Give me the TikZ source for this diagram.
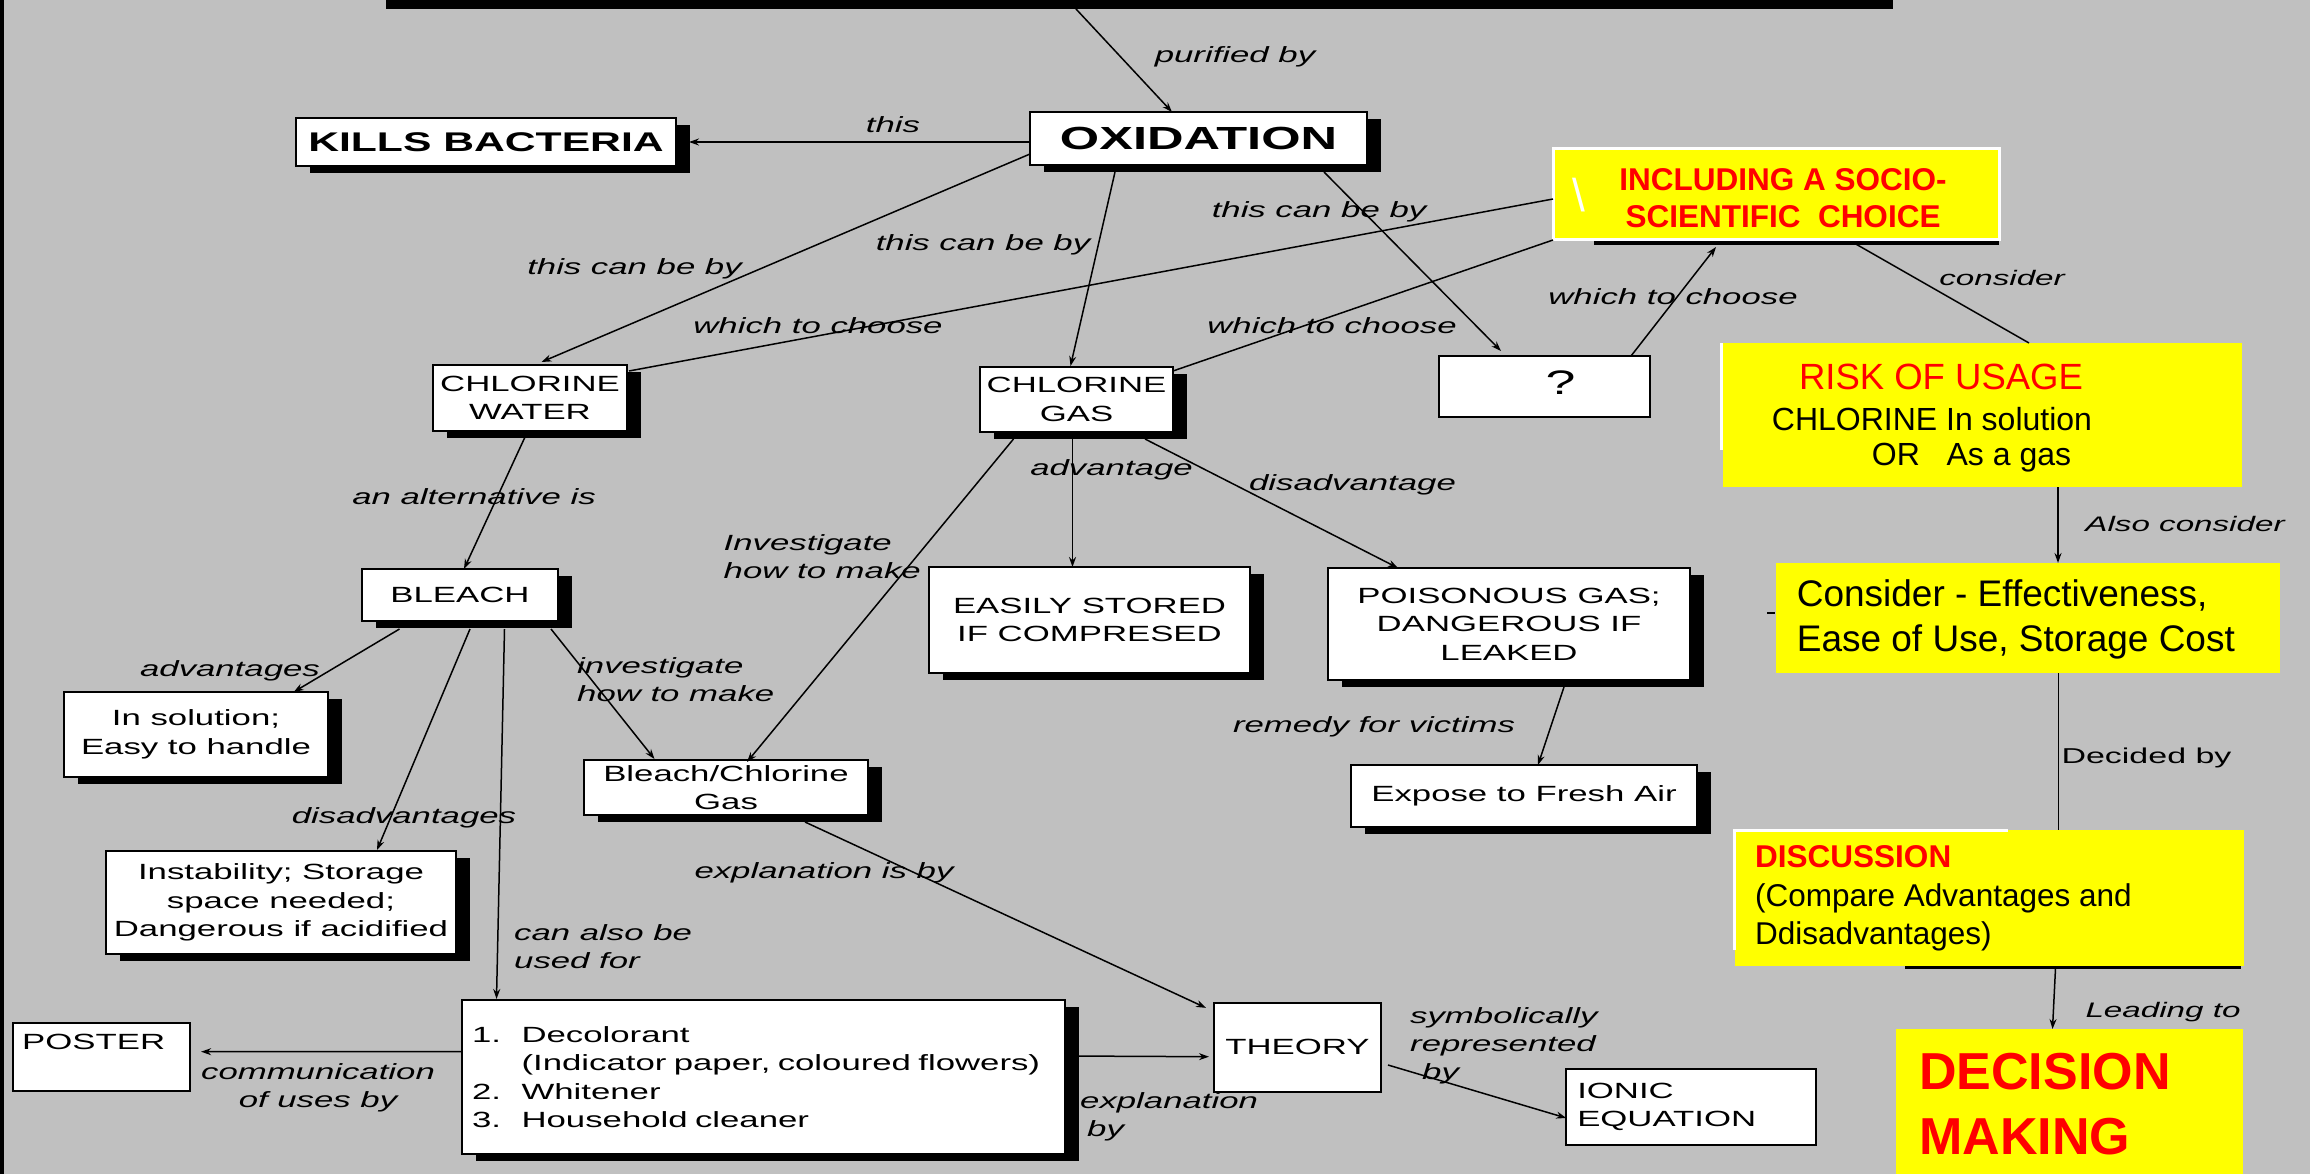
\documentclass[tikz,border=0pt]{standalone}
\usepackage{fontspec}
\setmainfont{Liberation Sans}
\newfontfamily\mapfont[FakeStretch=1.58]{Liberation Sans}
\usetikzlibrary{arrows.meta,shadows}

\definecolor{bggray}{HTML}{C0C0C0}
\definecolor{ylw}{HTML}{FFFF00}
\definecolor{rd}{HTML}{FF0000}

\tikzset{
  mapbox/.style={draw=black, line width=2pt, fill=white, inner sep=0pt, outer sep=0pt,
    align=center, font=\mapfont\fontsize{22}{28.5}\selectfont},
  shadowed/.style={general shadow={fill=black, shadow xshift=14pt, shadow yshift=-7pt}},
  ybox/.style={fill=ylw, inner sep=0pt, outer sep=0pt},
  ytext/.style={inner sep=0pt, align=left},
  lbl/.style={font=\mapfont\itshape\fontsize{22}{28}\selectfont, inner sep=0pt, align=left},
  rlbl/.style={font=\mapfont\itshape\fontsize{21}{28}\selectfont, inner sep=0pt},
  link/.style={line width=1.5pt},
  arr/.style={link, -{Stealth[length=10pt,width=7pt]}},
}

\begin{document}
\begin{tikzpicture}[x=1pt,y=-1pt]
\useasboundingbox (0,0) rectangle (2310,1174);
\fill[bggray] (0,0) rectangle (2310,1174);
\fill[black] (0,0) rectangle (3.5,1174);

% ---------- concept map boxes ----------
\node[fill=black, inner sep=0pt, outer sep=0pt, minimum width=1507pt, minimum height=9pt] (bar) at (1139.5,4.5) {};

\node[mapbox, shadowed, minimum width=380pt, minimum height=48pt,
      font=\mapfont\bfseries\fontsize{27}{30}\selectfont] (kb) at (486,142) {KILLS BACTERIA};
\node[mapbox, shadowed, minimum width=337pt, minimum height=53pt,
      font=\mapfont\bfseries\fontsize{32}{34}\selectfont] (ox) at (1198.5,138.5) {OXIDATION};

\node[mapbox, shadowed, minimum width=194pt, minimum height=66pt] (cw) at (530,398) {CHLORINE\\WATER};
\node[mapbox, shadowed, minimum width=193pt, minimum height=65pt] (cg) at (1076.5,399.5) {CHLORINE\\GAS};
\node[mapbox, minimum width=211pt, minimum height=61pt] (qm) at (1544.5,386.5) {};
\node[inner sep=0pt, font=\mapfont\fontsize{34}{34}\selectfont] (qmtext) at (1560.5,383) {?};

\node[mapbox, shadowed, minimum width=195.5pt, minimum height=52pt] (bleach) at (460,595) {BLEACH};
\node[mapbox, shadowed, minimum width=264pt, minimum height=85pt] (insol) at (196,734.5) {In solution;\\Easy to handle};
\node[mapbox, shadowed, minimum width=350pt, minimum height=103pt] (instab) at (281,902.5)
  {Instability; Storage\\space needed;\\Dangerous if acidified};
\node[mapbox, shadowed, minimum width=283.5pt, minimum height=55pt] (bcg) at (726,787.5) {Bleach/Chlorine\\Gas};
\node[mapbox, shadowed, minimum width=321pt, minimum height=106pt] (easily) at (1089.5,620) {EASILY STORED\\IF COMPRESED};
\node[mapbox, shadowed, minimum width=362.5pt, minimum height=112pt] (pois) at (1509,624)
  {POISONOUS GAS;\\DANGEROUS IF\\LEAKED};
\node[mapbox, shadowed, minimum width=346.5pt, minimum height=62pt] (expose) at (1524,796) {Expose to Fresh Air};

\node[mapbox, shadowed, minimum width=603pt, minimum height=154pt, text width=583pt, inner xsep=10pt, align=left] (uses) at (763.5,1077)
  {\makebox[49.6pt][l]{1.}Decolorant\\
   \hspace*{49.6pt}(Indicator paper, coloured flowers)\\
   \makebox[49.6pt][l]{2.}Whitener\\
   \makebox[49.6pt][l]{3.}Household cleaner};

\node[mapbox, minimum width=177pt, minimum height=68pt] (poster) at (101,1056.85) {};
\node[inner sep=0pt, anchor=west, font=\mapfont\fontsize{22}{28}\selectfont] (postertext) at (22,1042) {POSTER};

\node[mapbox, minimum width=167pt, minimum height=89pt] (theory) at (1297.5,1047.35) {THEORY};
\node[mapbox, minimum width=249.5pt, minimum height=76.3pt, text width=227.5pt, inner xsep=11pt, align=left] (ionic) at (1691,1106.85)
  {IONIC\\EQUATION};

% ---------- yellow decision boxes ----------
\node[ybox, draw=white, line width=3pt, minimum width=446pt, minimum height=91pt] (incl) at (1776,194.5) {};
\fill[black] (1594,241.5) rectangle (1999,245);
\node[inner sep=0pt, text=white, font=\fontsize{46}{46}\selectfont] (slash) at (1579,195.5) {\textbackslash};
\node[inner sep=0pt, align=center, text=rd, font=\bfseries\fontsize{31.5}{36.7}\selectfont] (incltext) at (1783,198.4)
  {INCLUDING A SOCIO-\\SCIENTIFIC\ \ CHOICE};

\node[ybox, minimum width=519pt, minimum height=144pt] (risk) at (1982.5,415) {};
\draw[white, line width=3pt] (1721.5,343) -- (1721.5,450);
\node[ytext, text=rd, font=\fontsize{36.5}{40}\selectfont] (risk1) at (1941,376.7) {RISK OF USAGE};
\node[ytext, anchor=west, font=\fontsize{32}{36}\selectfont] (risk2) at (1771.7,419) {CHLORINE In solution};
\node[ytext, anchor=west, font=\fontsize{32}{36}\selectfont] (risk3) at (1871.7,458) {OR\ \ \ As a gas};

\node[ybox, minimum width=504pt, minimum height=110pt] (cons) at (2028,618) {};
\node[ytext, anchor=west, font=\fontsize{37}{45}\selectfont] (constext) at (1796.6,619.2)
  {Consider - Effectiveness,\\Ease of Use, Storage Cost};
\draw[black, line width=1.5pt] (1767,613) -- (1775,613);

\node[ybox, minimum width=509pt, minimum height=135.7pt] (disc) at (1989,897.85) {};
\draw[white, line width=3pt] (1734.5,950) -- (1734.5,830) -- (2008,830);
\fill[black] (1905,965.7) rectangle (2241,968.5);
\node[ytext, anchor=west, font=\fontsize{31.5}{38.5}\selectfont] (disctext) at (1755,898.4)
  {\textcolor{rd}{\bfseries DISCUSSION}\\(Compare Advantages and\\Ddisadvantages)};

\node[ybox, minimum width=347pt, minimum height=145pt] (dec) at (2069.5,1101.5) {};
\node[ytext, anchor=west, text=rd, font=\bfseries\fontsize{52}{64.7}\selectfont] (dectext) at (1919,1104.4)
  {DECISION\\MAKING};

% ---------- connectors ----------
\draw[arr] ([xshift=-63.5pt]bar.south) -- ([xshift=-26.5pt]ox.north);
\draw[arr] ([yshift=-3.5pt]ox.west) -- ([xshift=13pt]kb.east);
\draw[arr] ([yshift=-15.5pt]ox.west) -- ([xshift=11.5pt,yshift=3pt]cw.north);
\draw[arr] ([xshift=-83.5pt,yshift=-7pt]ox.south) -- ([xshift=-6pt,yshift=1pt]cg.north);
\draw[arr] ([xshift=125.5pt,yshift=-7pt]ox.south) -- ([xshift=-43.5pt,yshift=5pt]qm.north);
\draw[link] ([yshift=-4.5pt]incl.west) -- ([xshift=2pt,yshift=-6pt]cw.north east);
\draw[link] (incl.south west) -- ([yshift=-4pt]cg.north east);
\draw[arr] ([xshift=86.5pt]qm.north) -- ([xshift=-60pt,yshift=-7pt]incl.south);
\draw[link] ([xshift=78pt,yshift=-3pt]incl.south) -- ([xshift=46.5pt]risk.north);
\draw[arr] ([xshift=75.5pt]risk.south) -- ([xshift=30pt]cons.north);
\draw[link] ([xshift=30.5pt]cons.south) -- ([xshift=69.5pt]disc.north);
\draw[arr] ([xshift=66.5pt,yshift=-2.5pt]disc.south) -- ([xshift=-17pt]dec.north);

\draw[arr] ([xshift=-5pt,yshift=-6pt]cw.south) -- ([xshift=4pt]bleach.north);
\draw[arr] ([xshift=-60.5pt,yshift=-8pt]bleach.south) -- ([xshift=97.7pt]insol.north);
\draw[arr] ([xshift=10pt,yshift=-8pt]bleach.south) -- ([xshift=96pt,yshift=1pt]instab.north);
\draw[arr] ([xshift=44.5pt,yshift=-8pt]bleach.south) -- ([xshift=-267pt,yshift=1pt]uses.north);
\draw[arr] ([xshift=91pt,yshift=-8pt]bleach.south) -- ([xshift=-71.5pt,yshift=1pt]bcg.north);
\draw[arr] ([xshift=-63pt,yshift=-7pt]cg.south) -- ([xshift=21pt,yshift=-2pt]bcg.north);
\draw[arr] ([xshift=-4pt,yshift=-7pt]cg.south) -- ([xshift=-17pt]easily.north);
\draw[arr] ([xshift=68.5pt,yshift=-7pt]cg.south) -- ([xshift=-111pt]pois.north);
\draw[arr] ([xshift=55pt,yshift=-7pt]pois.south) -- ([xshift=14pt]expose.north);
\draw[arr] ([xshift=79pt,yshift=-7pt]bcg.south) -- ([xshift=-8pt,yshift=-5pt]theory.north west);
\draw[arr] ([yshift=25.3pt]uses.west) -- ([xshift=11.6pt,yshift=5.15pt]poster.east);
\draw[arr] ([yshift=21pt]uses.east) -- ([xshift=-5pt,yshift=-9.35pt]theory.west);
\draw[arr] ([xshift=7pt,yshift=-17.65pt]theory.east) -- ([yshift=-11.15pt]ionic.west);

% ---------- link labels ----------
\node[lbl] (lpur) at (1235,57) {purified by};
\node[lbl] (lthis) at (893,125) {this};
\node[lbl] (ltcb1) at (634.5,269) {this can be by};
\node[lbl] (ltcb2) at (983,245) {this can be by};
\node[lbl] (ltcb3) at (1319,212) {this can be by};
\node[lbl] (lwtc1) at (818,326) {which to choose};
\node[lbl] (lwtc2) at (1332,326) {which to choose};
\node[lbl] (lwtc3) at (1673,297) {which to choose};
\node[rlbl] (lcons) at (2002,278) {consider};
\node[rlbl] (lalso) at (2185,524) {Also consider};
\node[inner sep=0pt, font=\mapfont\fontsize{21.5}{28}\selectfont] (ldec) at (2146.5,758) {Decided by};
\node[rlbl] (llead) at (2163,1012) {Leading to};
\node[lbl] (lalt) at (474,497) {an alternative is};
\node[lbl] (ladv) at (230,671) {advantages};
\node[lbl] (ldis) at (404,818) {disadvantages};
\node[lbl, anchor=west] (lcan) at (514,946.4) {can also be\\used for};
\node[lbl, anchor=west] (linv1) at (577,680) {investigate\\how to make};
\node[lbl, anchor=west] (linv2) at (723.5,557) {Investigate\\how to make};
\node[lbl] (ladv2) at (1111.5,470) {advantage};
\node[lbl] (ldis2) at (1352.5,485) {disadvantage};
\node[lbl] (lrem) at (1374,727) {remedy for victims};
\node[lbl] (lexp) at (824,873) {explanation is by};
\node[lbl, align=center] (lcomm) at (318,1088) {communication\\of uses by};
\node[lbl, anchor=west] (lexp2) at (1080,1117) {explanation\\\hspace*{7pt}by};
\node[lbl, anchor=west] (lsym) at (1410,1045.5) {symbolically\\represented\\\hspace*{12pt}by};
\end{tikzpicture}
\end{document}
